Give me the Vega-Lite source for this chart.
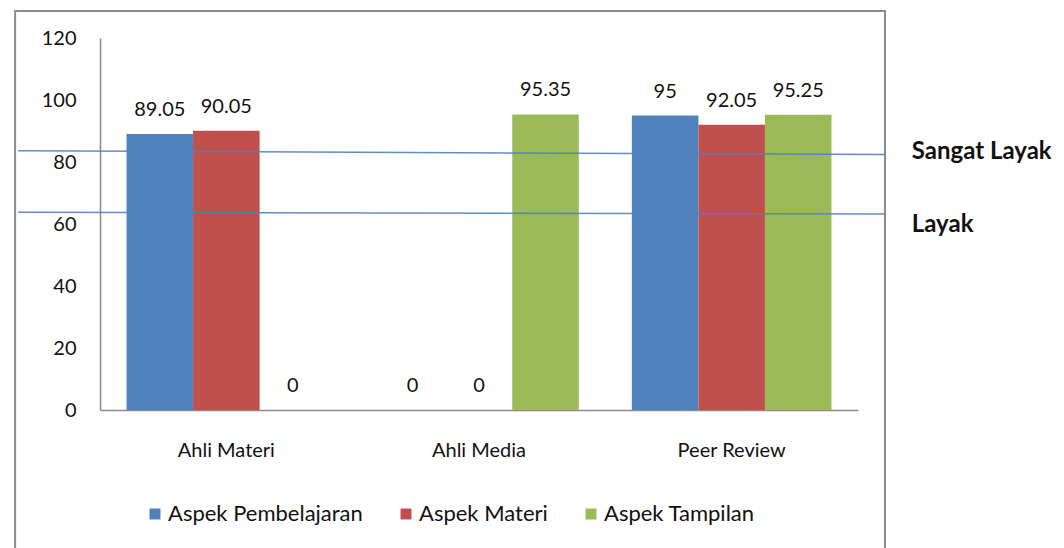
{
  "$schema": "https://vega.github.io/schema/vega-lite/v6.json",
  "width": 758,
  "height": 372,
  "autosize": {"type": "none"},
  "padding": {"left": 100, "top": 38, "right": 206, "bottom": 138},
  "background": "white",
  "config": {
    "font": "Lato",
    "view": {"stroke": null},
    "axis": {"labelFont": "Lato", "labelFontSize": 20, "labelColor": "#111111", "ticks": false, "grid": false, "domainColor": "#8c8c8c", "domainWidth": 1.5, "title": null},
    "axisY": {"labelPadding": 24},
    "axisX": {"labelPadding": 30, "labelAngle": 0}
  },
  "datasets": {
    "penilaian": [
      {"kelompok": "Ahli Materi", "aspek": "Aspek Pembelajaran", "nilai": 89.05},
      {"kelompok": "Ahli Materi", "aspek": "Aspek Materi", "nilai": 90.05},
      {"kelompok": "Ahli Materi", "aspek": "Aspek Tampilan", "nilai": 0},
      {"kelompok": "Ahli Media", "aspek": "Aspek Pembelajaran", "nilai": 0},
      {"kelompok": "Ahli Media", "aspek": "Aspek Materi", "nilai": 0},
      {"kelompok": "Ahli Media", "aspek": "Aspek Tampilan", "nilai": 95.35},
      {"kelompok": "Peer Review", "aspek": "Aspek Pembelajaran", "nilai": 95},
      {"kelompok": "Peer Review", "aspek": "Aspek Materi", "nilai": 92.05},
      {"kelompok": "Peer Review", "aspek": "Aspek Tampilan", "nilai": 95.25}
    ],
    "kriteria": [
      {"kriteria": "Sangat Layak", "awal": 83.6, "akhir": 82.4},
      {"kriteria": "Layak", "awal": 63.8, "akhir": 63.2}
    ],
    "label_kriteria": [
      {"kriteria": "Sangat Layak", "posisi": 83.2},
      {"kriteria": "Layak", "posisi": 59.7}
    ],
    "bingkai": [{"bagian": "frame"}]
  },
  "layer": [
    {
      "data": {"name": "penilaian"},
      "encoding": {
        "x": {"field": "kelompok", "type": "nominal", "sort": ["Ahli Materi", "Ahli Media", "Peer Review"], "scale": {"paddingInner": 0.21, "paddingOuter": 0.105}},
        "xOffset": {"field": "aspek", "type": "nominal", "sort": ["Aspek Pembelajaran", "Aspek Materi", "Aspek Tampilan"], "scale": {"paddingInner": 0, "paddingOuter": 0}},
        "y": {"field": "nilai", "type": "quantitative", "scale": {"domain": [0, 120], "nice": false}, "axis": {"values": [0, 20, 40, 60, 80, 100, 120]}}
      },
      "layer": [
        {
          "mark": {"type": "bar"},
          "encoding": {
            "color": {
              "field": "aspek", "type": "nominal",
              "sort": ["Aspek Pembelajaran", "Aspek Materi", "Aspek Tampilan"],
              "scale": {"domain": ["Aspek Pembelajaran", "Aspek Materi", "Aspek Tampilan"], "range": ["#4F81BD", "#C0504D", "#9BBB59"]},
              "legend": {"orient": "none", "legendX": 44, "legendY": 465, "direction": "horizontal", "title": null, "symbolType": "square", "symbolSize": 120, "symbolStrokeWidth": 0, "labelFontSize": 22, "labelFont": "Lato", "labelColor": "#111111", "labelLimit": 400, "columnPadding": 32, "labelOffset": 2}
            }
          }
        },
        {
          "mark": {"type": "text", "baseline": "middle", "dy": -24, "fontSize": 20, "color": "#111111"},
          "encoding": {"text": {"field": "nilai", "type": "quantitative", "format": "~g"}}
        }
      ]
    },
    {
      "layer": [
        {
          "data": {"name": "bingkai"},
          "mark": {"type": "rect", "fillOpacity": 0, "stroke": "#8c8c8c", "strokeWidth": 2},
          "encoding": {
            "x": {"datum": -0.112, "type": "quantitative", "scale": {"domain": [0, 1], "nice": false, "zero": false}, "axis": null},
            "x2": {"datum": 1.0356},
            "y": {"datum": 128.7, "type": "quantitative"},
            "y2": {"datum": -60}
          }
        },
        {
          "data": {"name": "kriteria"},
          "mark": {"type": "rule", "color": "#4F81BD", "strokeWidth": 1.5, "opacity": 0.9},
          "encoding": {
            "x": {"datum": -0.108, "type": "quantitative", "scale": {"domain": [0, 1], "nice": false, "zero": false}, "axis": null},
            "x2": {"datum": 1.0356},
            "y": {"field": "awal", "type": "quantitative"},
            "y2": {"field": "akhir"}
          }
        },
        {
          "data": {"name": "label_kriteria"},
          "mark": {"type": "text", "align": "left", "baseline": "middle", "fontSize": 24, "fontWeight": "bold", "color": "#111111"},
          "encoding": {
            "x": {"datum": 1.071, "type": "quantitative", "scale": {"domain": [0, 1], "nice": false, "zero": false}, "axis": null},
            "y": {"field": "posisi", "type": "quantitative"},
            "text": {"field": "kriteria", "type": "nominal"}
          }
        }
      ]
    }
  ],
  "resolve": {"scale": {"x": "independent"}}
}
